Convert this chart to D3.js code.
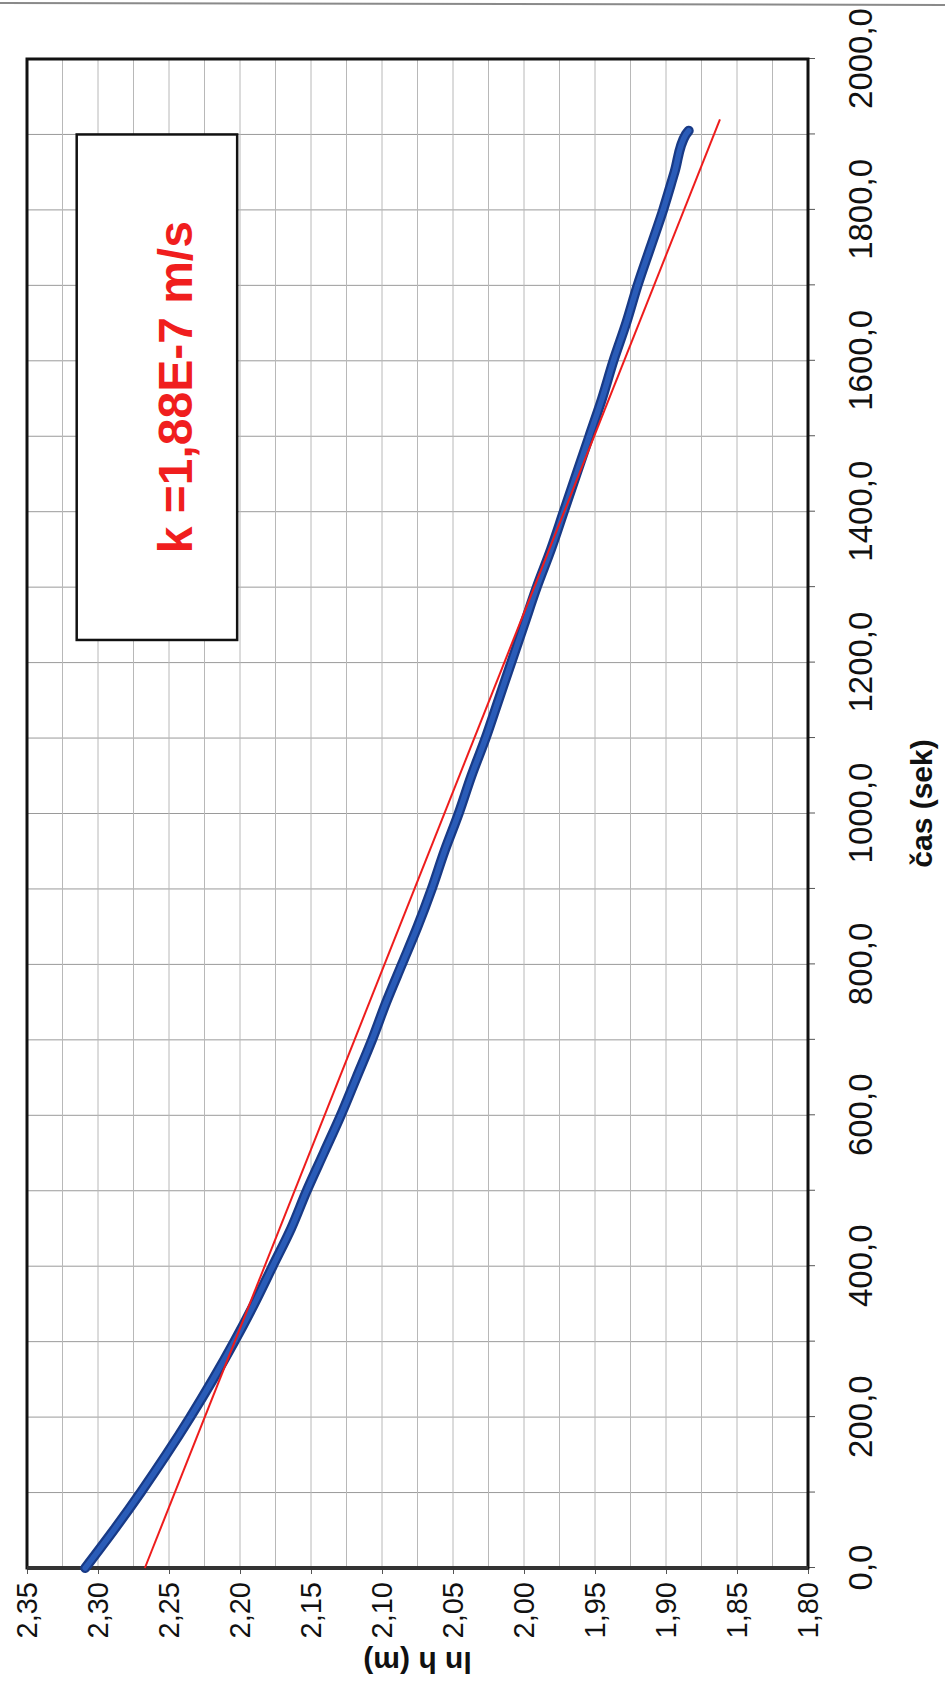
<!DOCTYPE html>
<html>
<head>
<meta charset="utf-8">
<script src="https://cdn.jsdelivr.net/npm/d3@7/dist/d3.min.js"></script>
<style>
  body { margin: 0; background: #fff; }
  text { font-family: "Liberation Sans", Arial, sans-serif; }
</style>
</head>
<body>
<div id="chart"></div>
<script>
// measured series: time (s) and ln h (m)
var casSek = [0, 50, 100, 150, 200, 250, 300, 350, 400, 450, 500, 550, 600, 650, 700, 750,
  800, 850, 900, 950, 1000, 1050, 1100, 1150, 1200, 1250, 1300, 1350, 1400, 1450, 1500,
  1550, 1600, 1650, 1700, 1750, 1800, 1850, 1900, 1905];
var lnH = [2.309, 2.289, 2.270, 2.252, 2.235, 2.219, 2.204, 2.190, 2.177, 2.164, 2.153, 2.141,
  2.129, 2.118, 2.107, 2.097, 2.086, 2.075, 2.065, 2.056, 2.046, 2.037, 2.027, 2.018, 2.009,
  2.000, 1.991, 1.981, 1.972, 1.963, 1.954, 1.945, 1.937, 1.928, 1.920, 1.911, 1.902, 1.894,
  1.886, 1.884];

// linear fit (red line) end points
var fitCas = [0, 1920];
var fitLnH = [2.267, 1.862];

// axis ticks
var casTicks = [0, 200, 400, 600, 800, 1000, 1200, 1400, 1600, 1800, 2000];
var lnTicks = [2.35, 2.30, 2.25, 2.20, 2.15, 2.10, 2.05, 2.00, 1.95, 1.90, 1.85, 1.80];

var label = "k =1,88E-7 m/s";

// the chart is drawn landscape and turned a quarter turn to the left
var plot = {left: 27, top: 59, right: 808, bottom: 1568},
    W = plot.bottom - plot.top,   // time axis length
    H = plot.right - plot.left;   // ln h axis length

var locale = d3.formatLocale({decimal: ",", thousands: "", grouping: [3], currency: ["", ""]});
var f1 = locale.format(".1f"),
    f2 = locale.format(".2f");

var svg = d3.select("#chart")
  .append("svg")
    .attr("width", 945)
    .attr("height", 1687);

// scan edge at the top of the page
svg.append("line")
  .attr("x1", 0).attr("x2", 945)
  .attr("y1", 3).attr("y2", 5)
  .attr("stroke", "#8a8a8a")
  .attr("stroke-width", 2);

var g = svg.append("g")
  .attr("transform", "translate(" + plot.left + "," + plot.bottom + ") rotate(-90)");

var x = d3.scaleLinear().domain([0, 2000]).range([0, W]);
var y = d3.scaleLinear().domain([2.35, 1.80]).range([0, H]);

// grid
g.append("g")
  .selectAll("line")
  .data(x.ticks(20))
  .enter()
  .append("line")
    .attr("x1", d => x(d)).attr("x2", d => x(d))
    .attr("y1", 0).attr("y2", H)
    .attr("stroke", "#9a9a9a")
    .attr("stroke-width", 1);

g.append("g")
  .selectAll("line")
  .data(d3.range(0, 23).map(i => 1.80 + i * 0.025))
  .enter()
  .append("line")
    .attr("x1", 0).attr("x2", W)
    .attr("y1", d => y(d)).attr("y2", d => y(d))
    .attr("stroke", "#b8b8b8")
    .attr("stroke-width", 1);

// time axis (shows on the right)
var xAxis = g.append("g")
  .attr("transform", "translate(0," + H + ")")
  .call(d3.axisBottom(x)
    .tickValues(x.ticks(20))
    .tickSize(7)
    .tickPadding(34)
    .tickFormat(d => casTicks.indexOf(d) >= 0 ? f1(d) : ""));
xAxis.select(".domain").remove();
xAxis.selectAll("line").attr("stroke", "#555");
xAxis.selectAll("text")
  .style("font-size", "33px")
  .attr("fill", "#111");

// ln h axis (shows at the bottom)
var yAxis = g.append("g")
  .call(d3.axisLeft(y)
    .tickValues(lnTicks)
    .tickSize(6)
    .tickPadding(8)
    .tickFormat(f2));
yAxis.select(".domain").remove();
yAxis.selectAll("line").attr("stroke", "#555");
yAxis.selectAll("text")
  .style("font-size", "29px")
  .attr("fill", "#111");

// plot border
g.append("rect")
  .attr("x", 0).attr("y", 0)
  .attr("width", W).attr("height", H)
  .attr("fill", "none")
  .attr("stroke", "#111")
  .attr("stroke-width", 3);
g.append("line")
  .attr("x1", 0).attr("x2", 0)
  .attr("y1", 0).attr("y2", H)
  .attr("stroke", "#333")
  .attr("stroke-width", 4);

// measured line
var pts = casSek.map((t, i) => [t, lnH[i]]);
var line = d3.line()
  .x(d => x(d[0]))
  .y(d => y(d[1]))
  .curve(d3.curveMonotoneX);

g.append("path")
  .datum(pts)
  .attr("fill", "none")
  .attr("stroke", "#183a86")
  .attr("stroke-width", 10)
  .attr("stroke-linecap", "round")
  .attr("stroke-linejoin", "round")
  .attr("d", line);
g.append("path")
  .datum(pts)
  .attr("fill", "none")
  .attr("stroke", "#2a5cb8")
  .attr("stroke-width", 5.5)
  .attr("stroke-linecap", "round")
  .attr("stroke-linejoin", "round")
  .attr("d", line);

// fit line
g.append("path")
  .datum(fitCas.map((t, i) => [t, fitLnH[i]]))
  .attr("fill", "none")
  .attr("stroke", "#ee1c1c")
  .attr("stroke-width", 2)
  .attr("d", d3.line().x(d => x(d[0])).y(d => y(d[1])));

// text box
var bx0 = x(1230), bx1 = x(1900), by0 = y(2.315), by1 = y(2.202);
g.append("rect")
  .attr("x", bx0).attr("y", by0)
  .attr("width", bx1 - bx0).attr("height", by1 - by0)
  .attr("fill", "#fff")
  .attr("stroke", "#111")
  .attr("stroke-width", 2.5);
g.append("text")
  .attr("x", (bx0 + bx1) / 2)
  .attr("y", by1 - 45)
  .attr("text-anchor", "middle")
  .style("font-size", "48px")
  .style("font-weight", "bold")
  .attr("fill", "#f01e1e")
  .text(label);

// axis titles
g.append("text")
  .attr("x", W / 2 + 10)
  .attr("y", H + 124)
  .attr("text-anchor", "middle")
  .style("font-size", "30px")
  .style("font-weight", "bold")
  .attr("fill", "#111")
  .text("čas (sek)");

g.append("text")
  .attr("transform", "rotate(-90)")
  .attr("x", -H / 2)
  .attr("y", -84)
  .attr("text-anchor", "middle")
  .style("font-size", "30px")
  .style("font-weight", "bold")
  .attr("fill", "#111")
  .text("ln h (m)");
</script>
</body>
</html>
